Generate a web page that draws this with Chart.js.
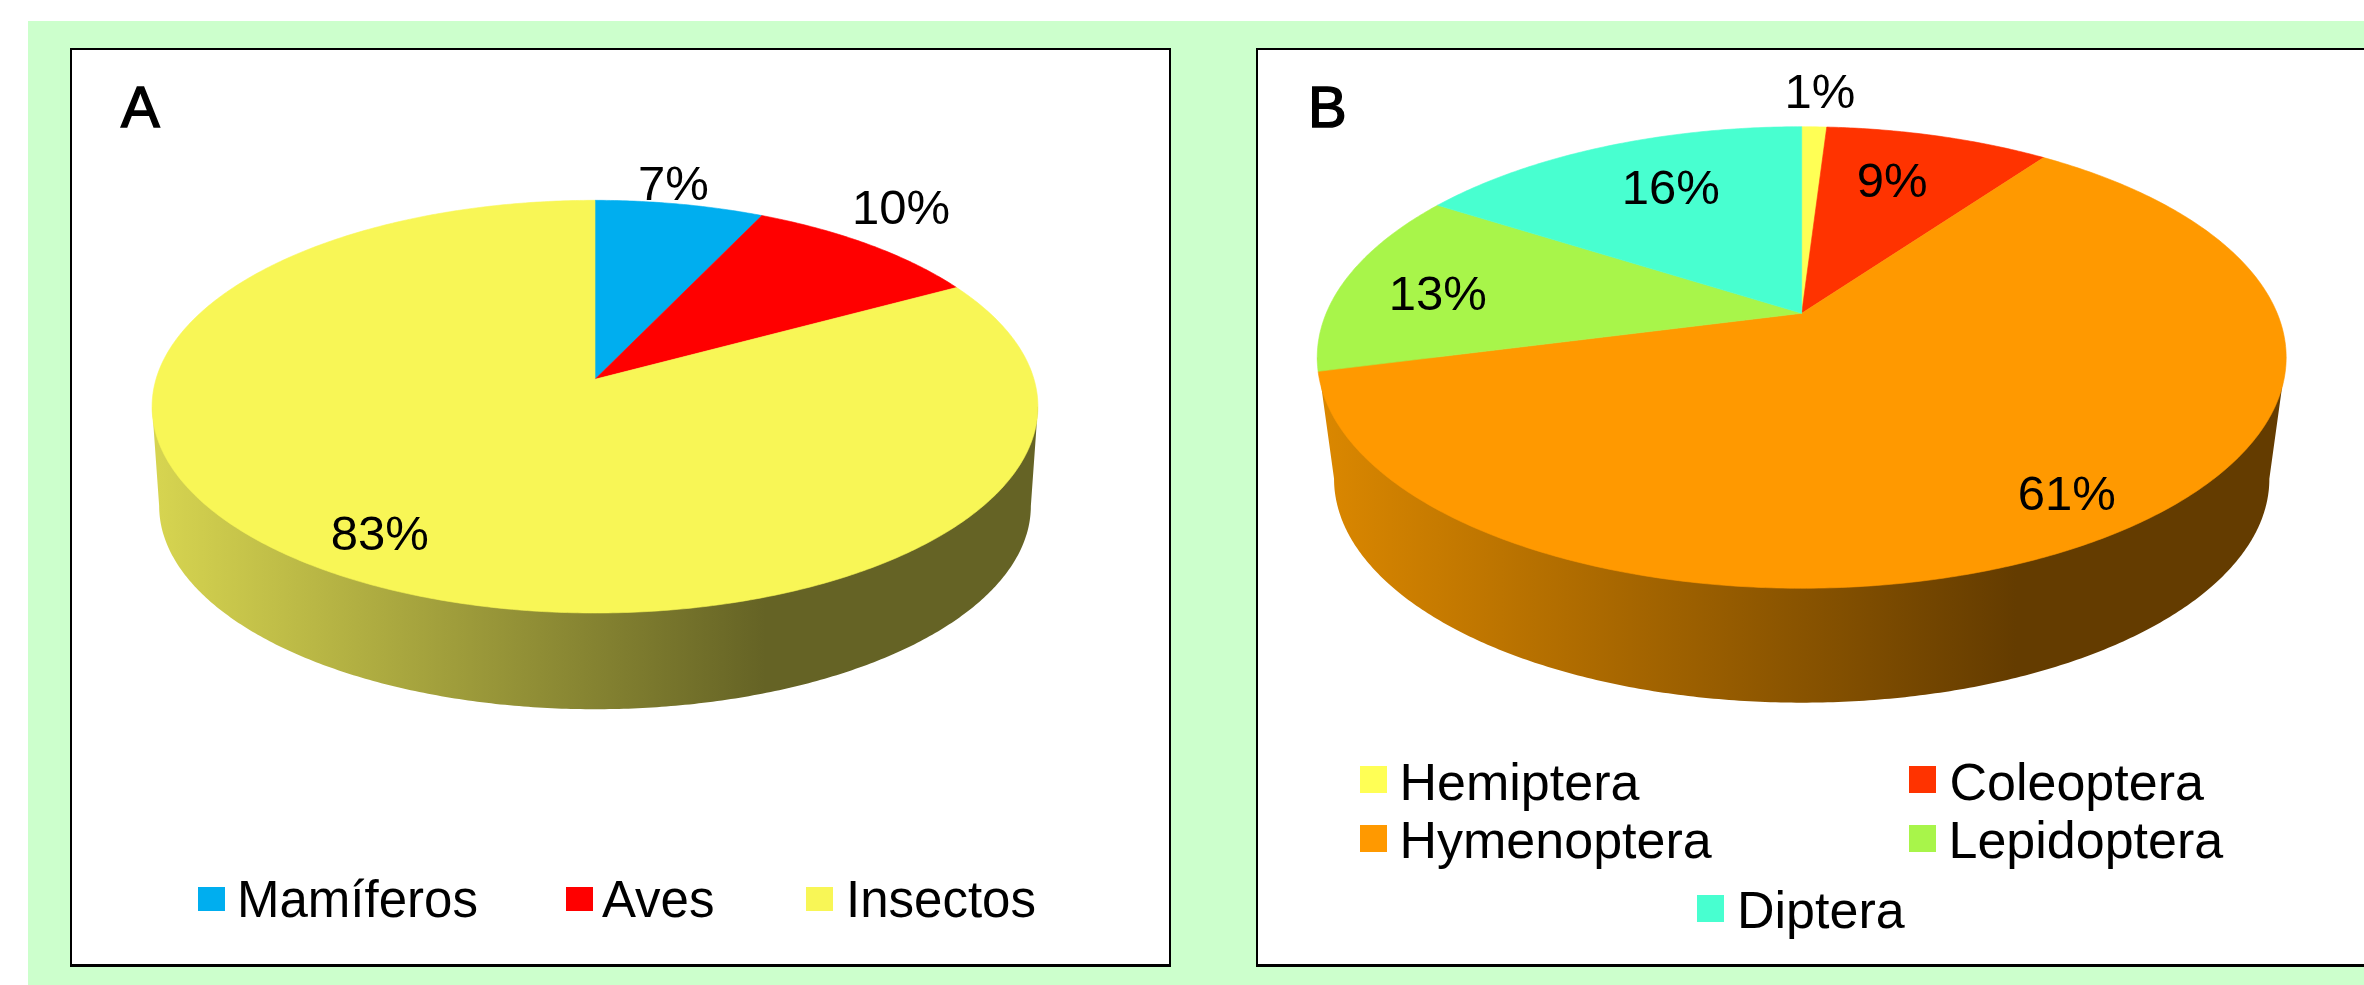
<!DOCTYPE html>
<html>
<head>
<meta charset="utf-8">
<script src="https://cdn.jsdelivr.net/npm/chart.js@4"></script>
<style>
  html, body { margin: 0; padding: 0; background: #fff; width: 2364px; height: 985px; overflow: hidden; }
  #fundo { position: absolute; left: 28px; top: 21px; right: 0; bottom: 0; background: #ccffcc; }
  .painel { position: absolute; top: 48px; height: 919px; background: #fff; box-sizing: border-box; border: 2px solid #000; border-bottom-width: 3px; }
  #painelA { left: 70px; width: 1101px; }
  #painelB { left: 1256px; width: 1200px; }
  canvas { position: absolute; left: 0; top: 0; }
  .texto { position: absolute; font-family: "Liberation Sans", Arial, sans-serif; color: #000; line-height: 1; white-space: nowrap; }
  .quadro { position: absolute; }
</style>
</head>
<body>
<div id="fundo"></div>
<div class="painel" id="painelA"></div>
<div class="painel" id="painelB"></div>
<canvas id="graficoA" width="2364" height="985"></canvas>
<canvas id="graficoB" width="2364" height="985"></canvas>
<script>
// dados
const categoriasA = ['Mamíferos', 'Aves', 'Insectos'];
const valoresA = [7, 10, 83];
const coresA = ['#00aeef', '#ff0000', '#f8f656'];

const categoriasB = ['Hemiptera', 'Coleoptera', 'Hymenoptera', 'Lepidoptera', 'Diptera'];
const valoresB = [1, 9, 61, 13, 16];
const coresB = ['#ffff55', '#ff3300', '#ff9900', '#a8f54a', '#48ffd0'];

// perspectiva da tampa e da base de cada pizza (cx, cy = vertice)
const vistaA = {
  topo: { cx: 595, cy: 379.3, a: 439, b: 202.7, k: 0.1326 },
  base: { cx: 595, cy: 479, a: 432, b: 199.7, k: 0.1326 },
  parede: { x0: 159, x1: 765, claro: '#d6d450', escuro: '#656325' },
  fonte: 49,
  deslocamentos: [[13, -44], [96, -52], [-32, 28]]
};
const vistaB = {
  topo: { cx: 1801.7, cy: 313.3, a: 475.5, b: 222.3, k: 0.1915 },
  base: { cx: 1801.7, cy: 436, a: 459, b: 215.6, k: 0.1915 },
  parede: { x0: 1326, x1: 2016, claro: '#da8700', escuro: '#643c00' },
  fonte: 49,
  deslocamentos: [[8.5, -60], [-16, 22], [37.7, 40], [-19.4, 22], [21.7, 20]]
};

// legenda: x do quadrado, topo do quadrado, x do texto, linha de base
const legendaA = { fonte: 51, w: 27, h: 24, itens: [[198, 887, 237, 916.7], [566, 887, 602, 916.7], [806, 887, 846, 916.7]] };
const legendaB = { fonte: 52, w: 27, h: 27, itens: [[1359.6, 766, 1399.5, 800], [1909, 766, 1949.5, 800], [1359.6, 825, 1399.5, 858], [1909, 825, 1948.5, 858], [1697.4, 895, 1737, 928]] };

function projetar(p, angulo, r) {
  const u = r * Math.cos(angulo);
  const v = r * Math.sin(angulo);
  const w = 1 - p.k * v;
  return { x: p.cx + p.a * u / w, y: p.cy + p.b * v / w };
}

function fatia(ctx, p, ini, fim) {
  ctx.beginPath();
  ctx.moveTo(p.cx, p.cy);
  const passos = Math.max(2, Math.ceil((fim - ini) / 0.01));
  for (let i = 0; i <= passos; i++) {
    const q = projetar(p, ini + (fim - ini) * i / passos, 1);
    ctx.lineTo(q.x, q.y);
  }
  ctx.closePath();
}

function desenharParede(ctx, vista) {
  const g = ctx.createLinearGradient(vista.parede.x0, 0, vista.parede.x1, 0);
  g.addColorStop(0, vista.parede.claro);
  g.addColorStop(1, vista.parede.escuro);
  ctx.fillStyle = g;
  // angulo dos extremos laterais da elipse em perspectiva
  const lado = Math.asin(vista.topo.k);
  const dir = projetar(vista.topo, lado, 1);
  const esq = projetar(vista.topo, Math.PI - lado, 1);
  ctx.beginPath();
  ctx.moveTo(dir.x, dir.y);
  for (let i = 0; i <= 300; i++) {
    const q = projetar(vista.base, lado + (Math.PI - 2 * lado) * i / 300, 1);
    ctx.lineTo(q.x, q.y);
  }
  ctx.lineTo(esq.x, esq.y);
  ctx.closePath();
  ctx.fill();
}

const pizza3d = {
  id: 'pizza3d',
  beforeDatasetsDraw(chart, args, opts) {
    const ctx = chart.ctx;
    const vista = opts.vista;
    const arcos = chart.getDatasetMeta(0).data;
    const cores = chart.data.datasets[0].backgroundColor;
    const valores = chart.data.datasets[0].data;

    ctx.save();
    desenharParede(ctx, vista);
    arcos.forEach((arco, i) => {
      fatia(ctx, vista.topo, arco.startAngle, arco.endAngle);
      ctx.fillStyle = cores[i];
      ctx.fill();
      ctx.strokeStyle = cores[i];
      ctx.lineWidth = 0.6;
      ctx.stroke();
    });
    ctx.font = vista.fonte + 'px "Liberation Sans", Arial, sans-serif';
    ctx.fillStyle = '#000';
    ctx.textAlign = 'center';
    ctx.textBaseline = 'alphabetic';
    arcos.forEach((arco, i) => {
      const meio = (arco.startAngle + arco.endAngle) / 2;
      const q = projetar(vista.topo, meio, 0.75);
      const d = vista.deslocamentos[i];
      ctx.fillText(valores[i] + '%', q.x + d[0], q.y + d[1]);
    });
    ctx.restore();
    return false;
  }
};

function criarPizza(id, categorias, valores, cores, vista) {
  new Chart(document.getElementById(id), {
    type: 'pie',
    data: { labels: categorias, datasets: [{ data: valores, backgroundColor: cores, borderWidth: 0 }] },
    options: {
      responsive: false,
      animation: false,
      events: [],
      plugins: { legend: { display: false }, tooltip: { enabled: false }, pizza3d: { vista: vista } }
    },
    plugins: [pizza3d]
  });
}

function criarTexto(conteudo, x, base, tamanho, extra) {
  const el = document.createElement('div');
  el.className = 'texto';
  el.textContent = conteudo;
  el.style.left = x + 'px';
  el.style.top = (base - 0.8465 * tamanho) + 'px';
  el.style.fontSize = tamanho + 'px';
  if (extra) el.style.webkitTextStroke = extra;
  document.body.appendChild(el);
}

function criarLegenda(categorias, cores, legenda) {
  categorias.forEach((nome, i) => {
    const it = legenda.itens[i];
    const q = document.createElement('div');
    q.className = 'quadro';
    q.style.cssText += `left:${it[0]}px;top:${it[1]}px;width:${legenda.w}px;height:${legenda.h}px;background:${cores[i]}`;
    document.body.appendChild(q);
    criarTexto(nome, it[2], it[3], legenda.fonte);
  });
}

document.addEventListener('DOMContentLoaded', function () {
  criarPizza('graficoA', categoriasA, valoresA, coresA, vistaA);
  criarPizza('graficoB', categoriasB, valoresB, coresB, vistaB);
  criarLegenda(categoriasA, coresA, legendaA);
  criarLegenda(categoriasB, coresB, legendaB);
  criarTexto('A', 121, 127, 58, '1.5px #000');
  criarTexto('B', 1308, 127, 58, '1.5px #000');
});
</script>
</body>
</html>
